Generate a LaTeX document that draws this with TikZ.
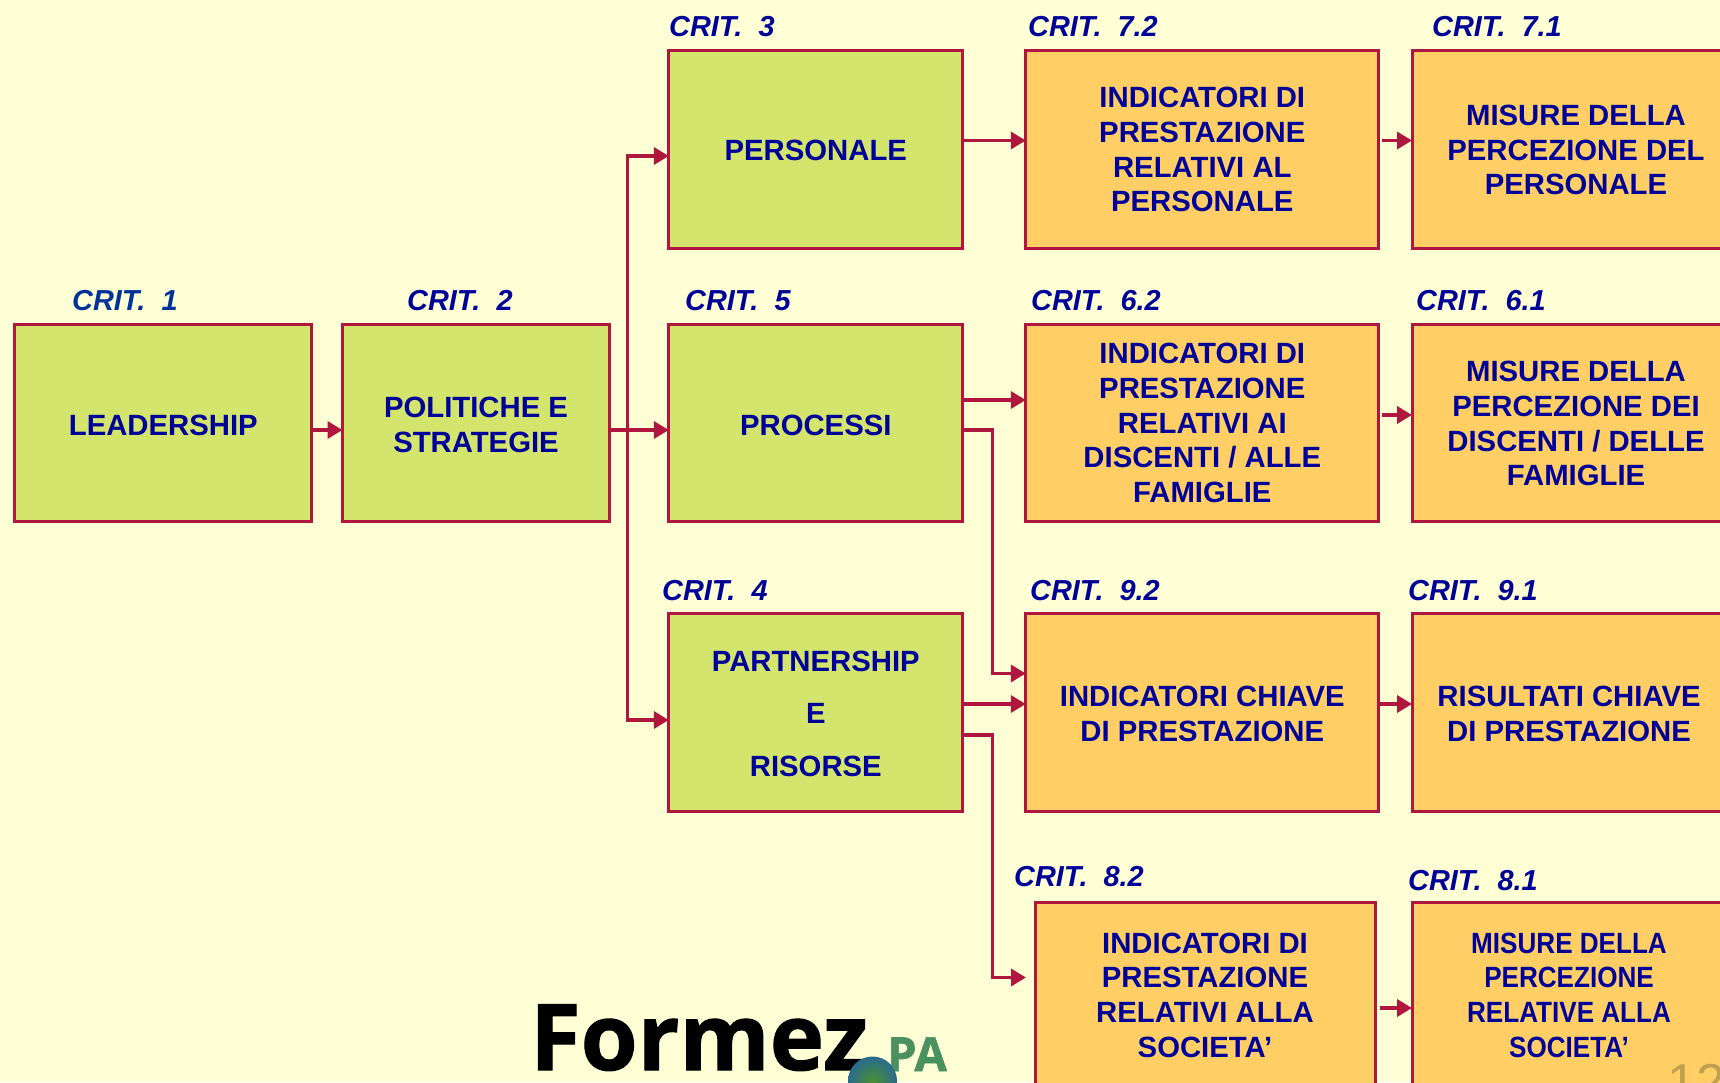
\documentclass[tikz,border=0pt]{standalone}
\usepackage{fontspec}
\setmainfont{Liberation Sans}
\newfontfamily\narrowfont[FakeStretch=0.89]{Liberation Sans}
\newfontfamily\logofont[BoldFeatures={FakeBold=1.2}]{Open Sans}
\usetikzlibrary{arrows.meta,calc}
\definecolor{bgc}{HTML}{FFFFD5}
\definecolor{grn}{HTML}{D3E56D}
\definecolor{org}{HTML}{FFCF66}
\definecolor{crim}{HTML}{B0173F}
\definecolor{navy}{HTML}{000099}
\definecolor{crblue}{HTML}{003399}
\definecolor{logog}{HTML}{4A9060}
\definecolor{gold}{HTML}{BFA050}
\definecolor{ballin}{HTML}{4A9030}
\definecolor{ballout}{HTML}{2A6A8F}
\tikzset{
  boxbase/.style={draw=crim,line width=3pt,inner sep=0pt,outer sep=0pt,align=center,text=navy,
     text depth=0pt,
     font=\fontsize{29.3}{34.7}\selectfont\bfseries},
  gbox/.style={boxbase,fill=grn},
  obox/.style={boxbase,fill=org},
  crit/.style={anchor=base west,inner sep=0pt,text=navy,font=\fontsize{28.9}{32}\selectfont\bfseries\itshape},
  conn/.style={draw=crim,line width=3.6pt,-{Triangle[length=15pt,width=17pt]}},
}
\begin{document}
\begin{tikzpicture}[x=1pt,y=-1pt]
\useasboundingbox (0,0) rectangle (1720,1082);
\clip (0,0) rectangle (1720,1082);
\fill[bgc] (0,0) rectangle (1720,1082);
% row connector levels
\coordinate (yA) at (0,156);
\coordinate (yB) at (0,430);
\coordinate (yC) at (0,720);
\coordinate (yD) at (0,140.5);
\coordinate (yE) at (0,400);
\coordinate (yF) at (0,415);
\coordinate (yG) at (0,673.5);
\coordinate (yH) at (0,704);
\coordinate (yI) at (0,735);
\coordinate (yJ) at (0,977.5);
\coordinate (yK) at (0,1008);
\coordinate (xA) at (627.5,0);
\coordinate (xB) at (992.5,0);
% boxes
\node[gbox,text height=25.8pt,minimum width=297pt,minimum height=197pt] (lead) at (163.3,422.5) {LEADERSHIP};
\node[gbox,text height=59.5pt,minimum width=267pt,minimum height=197pt] (pol) at (476,422.5) {POLITICHE E\\STRATEGIE};
\node[gbox,text height=23.4pt,minimum width=294pt,minimum height=198pt] (pers) at (815.8,149) {PERSONALE};
\node[gbox,text height=25.8pt,minimum width=294pt,minimum height=197pt] (proc) at (815.8,422.5) {PROCESSI};
\node[gbox,text height=129pt,minimum width=294pt,minimum height=198pt] (part) at (815.8,712) {PARTNERSHIP\\[18pt]E\\[18pt]RISORSE};
\node[obox,text height=125.5pt,minimum width=353pt,minimum height=198pt] (i72) at (1202.3,149) {INDICATORI DI\\PRESTAZIONE\\RELATIVI AL\\PERSONALE};
\node[obox,text height=160.2pt,minimum width=353pt,minimum height=197pt] (i62) at (1202.3,422.5) {INDICATORI DI\\PRESTAZIONE\\RELATIVI AI\\DISCENTI / ALLE\\FAMIGLIE};
\node[obox,text height=58.3pt,minimum width=353pt,minimum height=198pt] (i92) at (1202.3,712) {INDICATORI CHIAVE\\DI PRESTAZIONE};
\node[obox,text height=124.5pt,minimum width=340pt,minimum height=186pt] (i82) at (1205,995) {INDICATORI DI\\PRESTAZIONE\\RELATIVI ALLA\\SOCIETA’};
\node[obox,text height=91.8pt,minimum width=328pt,minimum height=198pt] (m71) at (1576,149) {MISURE DELLA\\PERCEZIONE DEL\\PERSONALE};
\node[obox,text height=126.5pt,minimum width=328pt,minimum height=197pt] (m61) at (1576,422.5) {MISURE DELLA\\PERCEZIONE DEI\\DISCENTI / DELLE\\FAMIGLIE};
\node[obox,text height=58.3pt,minimum width=314pt,minimum height=198pt] (m91) at (1569,712) {RISULTATI CHIAVE\\DI PRESTAZIONE};
\node[obox,text height=124.5pt,minimum width=314pt,minimum height=186pt,font=\fontsize{29.3}{34.7}\selectfont\narrowfont\bfseries] (m81) at (1569,995) {MISURE DELLA\\PERCEZIONE\\RELATIVE ALLA\\SOCIETA’};
% labels
\node[crit,text=crblue] (c1) at (72,310.5) {CRIT.\ \ 1};
\node[crit] (c2) at (407,310.5) {CRIT.\ \ 2};
\node[crit] (c3) at (669,36.5) {CRIT.\ \ 3};
\node[crit] (c72) at (1028,36.5) {CRIT.\ \ 7.2};
\node[crit] (c71) at (1432,36.5) {CRIT.\ \ 7.1};
\node[crit] (c5) at (685,310.5) {CRIT.\ \ 5};
\node[crit] (c62) at (1031,310.5) {CRIT.\ \ 6.2};
\node[crit] (c61) at (1416,310.5) {CRIT.\ \ 6.1};
\node[crit] (c4) at (662,600.5) {CRIT.\ \ 4};
\node[crit] (c92) at (1030,600.5) {CRIT.\ \ 9.2};
\node[crit] (c91) at (1408,600.5) {CRIT.\ \ 9.1};
\node[crit] (c82) at (1014,886.5) {CRIT.\ \ 8.2};
\node[crit] (c81) at (1408,890.5) {CRIT.\ \ 8.1};
% connectors
\draw[conn] (lead.east |- yB) -- (pol.west |- yB);
\draw[conn] (pol.east |- yB) -- (proc.west |- yB);
\draw[conn] (xA |- yB) -- (xA |- yA) -- (pers.west |- yA);
\draw[conn] (xA |- yB) -- (xA |- yC) -- (part.west |- yC);
\draw[conn] (pers.east |- yD) -- (i72.west |- yD);
\draw[conn,shorten <=3pt] (i72.east |- yD) -- (m71.west |- yD);
\draw[conn] (proc.east |- yE) -- (i62.west |- yE);
\draw[conn,shorten <=3pt] (i62.east |- yF) -- (m61.west |- yF);
\draw[conn] (proc.east |- yB) -- (xB |- yB) -- (xB |- yG) -- (i92.west |- yG);
\draw[conn] (part.east |- yH) -- (i92.west |- yH);
\draw[conn] (i92.east |- yH) -- (m91.west |- yH);
\coordinate (e82) at (1026,977.5);
\draw[conn] (part.east |- yI) -- (xB |- yI) -- (xB |- yJ) -- (e82);
\draw[conn,shorten <=5pt] (i82.east |- yK) -- (m81.west |- yK);
% logo
\node[anchor=base west,inner sep=0pt,font=\fontsize{92}{92}\selectfont\logofont\bfseries] (fz) at (530,1070) {Formez};
\node[anchor=base west,inner sep=0pt,text=logog,font=\fontsize{47}{47}\selectfont\logofont\bfseries] (pa) at (887,1071) {PA};
\shade[inner color=ballin,outer color=ballout] (872.5,1081) circle (24.5);
\node[anchor=base west,inner sep=0pt,text=gold,font=\fontsize{52}{52}\selectfont] (pg) at (1667,1100) {12};
\end{tikzpicture}
\end{document}
